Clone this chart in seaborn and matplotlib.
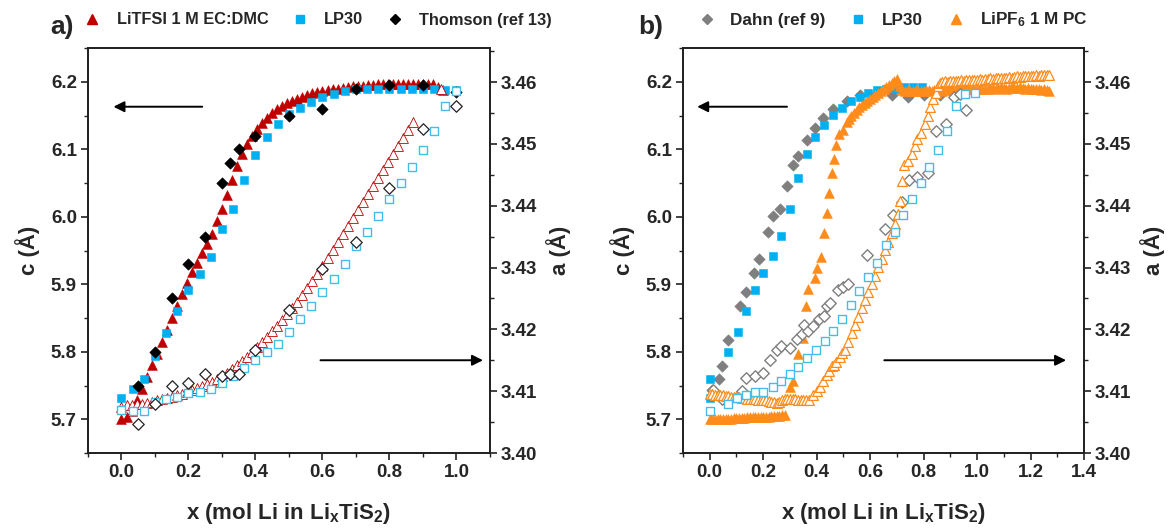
import numpy as np
import pandas as pd
import matplotlib
matplotlib.use('Agg')
import matplotlib.pyplot as plt
import seaborn as sns
from matplotlib.lines import Line2D
from matplotlib.ticker import MultipleLocator, FormatStrFormatter, FixedLocator

sns.set_style('ticks')
plt.rcParams['font.family'] = ['Liberation Sans', 'DejaVu Sans']
plt.rcParams['font.weight'] = 'bold'
plt.rcParams['mathtext.fontset'] = 'custom'
plt.rcParams['mathtext.rm'] = 'Liberation Sans:bold'
plt.rcParams['mathtext.bf'] = 'Liberation Sans:bold'
plt.rcParams['mathtext.it'] = 'Liberation Sans:bold'

# ---------------- Panel a data ----------------
litfsi_c_x = [0.000, 0.015, 0.030, 0.045, 0.060, 0.075, 0.090, 0.105, 0.120, 0.135,
              0.150, 0.165, 0.180, 0.195, 0.210, 0.225, 0.240, 0.255, 0.270, 0.285,
              0.300, 0.315, 0.330, 0.345, 0.360, 0.375, 0.390, 0.405, 0.420, 0.435,
              0.450, 0.465, 0.480, 0.495, 0.510, 0.525, 0.540, 0.555, 0.570, 0.585,
              0.600, 0.615, 0.630, 0.645, 0.660, 0.675, 0.690, 0.705, 0.720, 0.735,
              0.750, 0.765, 0.780, 0.795, 0.810, 0.825, 0.840, 0.855, 0.870, 0.885,
              0.900, 0.915, 0.930, 0.945, 0.960]
litfsi_c = [5.700, 5.703, 5.712, 5.728, 5.745, 5.763, 5.780, 5.797, 5.815, 5.832,
            5.850, 5.868, 5.885, 5.902, 5.918, 5.932, 5.946, 5.960, 5.975, 5.993,
            6.012, 6.032, 6.055, 6.075, 6.093, 6.108, 6.120, 6.130, 6.139, 6.147,
            6.153, 6.159, 6.164, 6.168, 6.172, 6.175, 6.178, 6.181, 6.183, 6.185,
            6.187, 6.188, 6.189, 6.190, 6.191, 6.192, 6.193, 6.194, 6.194, 6.195,
            6.195, 6.196, 6.196, 6.196, 6.197, 6.197, 6.197, 6.197, 6.197, 6.197,
            6.197, 6.197, 6.196, 6.192, 6.188]

litfsi_a_x = [0.000, 0.015, 0.030, 0.045, 0.060, 0.075, 0.090, 0.105, 0.120, 0.135,
              0.150, 0.165, 0.180, 0.195, 0.210, 0.225, 0.240, 0.255, 0.270, 0.285,
              0.300, 0.315, 0.330, 0.345, 0.360, 0.375, 0.390, 0.405, 0.420, 0.435,
              0.450, 0.465, 0.480, 0.495, 0.510, 0.525, 0.540, 0.555, 0.570, 0.585,
              0.600, 0.615, 0.630, 0.645, 0.660, 0.675, 0.690, 0.705, 0.720, 0.735,
              0.750, 0.765, 0.780, 0.795, 0.810, 0.825, 0.840, 0.855, 0.870, 0.955]
litfsi_a = [3.4075, 3.4077, 3.4078, 3.4079, 3.4080, 3.4081, 3.4083, 3.4085, 3.4087, 3.4089,
            3.4091, 3.4093, 3.4096, 3.4099, 3.4102, 3.4105, 3.4108, 3.4111, 3.4115, 3.4119,
            3.4124, 3.4130, 3.4136, 3.4142, 3.4149, 3.4156, 3.4164, 3.4172, 3.4180, 3.4188,
            3.4197, 3.4206, 3.4215, 3.4225, 3.4235, 3.4245, 3.4256, 3.4267, 3.4278, 3.4290,
            3.4302, 3.4315, 3.4328, 3.4341, 3.4354, 3.4367, 3.4380, 3.4393, 3.4406, 3.4419,
            3.4432, 3.4445, 3.4458, 3.4471, 3.4484, 3.4497, 3.4510, 3.4523, 3.4535, 3.4588]

lp30a_c_x = [0.000, 0.033, 0.067, 0.100, 0.133, 0.167, 0.200, 0.233, 0.267, 0.300,
             0.333, 0.367, 0.400, 0.433, 0.467, 0.500, 0.533, 0.567, 0.600, 0.633,
             0.667, 0.700, 0.733, 0.767, 0.800, 0.833, 0.867, 0.900, 0.933, 0.967, 1.000]
lp30a_c = [5.732, 5.745, 5.760, 5.793, 5.828, 5.860, 5.892, 5.915, 5.940, 5.982,
           6.012, 6.055, 6.092, 6.118, 6.137, 6.152, 6.161, 6.170, 6.177, 6.182,
           6.186, 6.189, 6.190, 6.190, 6.190, 6.190, 6.190, 6.190, 6.190, 6.188, 6.188]

lp30a_a_x = [0.000, 0.033, 0.067, 0.100, 0.133, 0.167, 0.200, 0.233, 0.267, 0.300,
             0.333, 0.367, 0.400, 0.433, 0.467, 0.500, 0.533, 0.567, 0.600, 0.633,
             0.667, 0.700, 0.733, 0.767, 0.800, 0.833, 0.867, 0.900, 0.933, 0.967, 1.000]
lp30a_a = [3.4069, 3.4068, 3.4068, 3.4082, 3.4087, 3.4090, 3.4097, 3.4099, 3.4103, 3.4113,
           3.4125, 3.4138, 3.4150, 3.4164, 3.4177, 3.4195, 3.4216, 3.4237, 3.4260, 3.4282,
           3.4305, 3.4334, 3.4358, 3.4384, 3.4410, 3.4436, 3.4462, 3.4490, 3.4520, 3.4561, 3.4585]

thomson_x = [0.05, 0.10, 0.15, 0.20, 0.25, 0.30, 0.325, 0.35, 0.40, 0.50, 0.60, 0.70, 0.80, 0.90, 1.00]
thomson_c = [5.750, 5.800, 5.880, 5.930, 5.970, 6.050, 6.080, 6.100, 6.120, 6.150, 6.160, 6.189, 6.195, 6.195, 6.185]
thomson_a = [3.4047, 3.4079, 3.4108, 3.4113, 3.4128, 3.4124, 3.4128, 3.4128, 3.4166, 3.4232,
             3.4298, 3.4342, 3.4428, 3.4524, 3.4562]

# ---------------- Panel b data ----------------
dahn_c_x = [0.010, 0.035, 0.045, 0.070, 0.115, 0.135, 0.165, 0.185, 0.218, 0.237,
            0.262, 0.290, 0.312, 0.331, 0.362, 0.393, 0.424, 0.462, 0.512, 0.562,
            0.620, 0.680, 0.740, 0.800, 0.860]
dahn_c = [5.744, 5.760, 5.779, 5.817, 5.868, 5.888, 5.916, 5.938, 5.977, 6.001,
          6.011, 6.045, 6.076, 6.090, 6.114, 6.131, 6.146, 6.159, 6.171, 6.181,
          6.180, 6.180, 6.178, 6.180, 6.180]

dahn_a_x = [0.012, 0.047, 0.120, 0.137, 0.169, 0.200, 0.225, 0.250, 0.265, 0.300,
            0.325, 0.345, 0.352, 0.367, 0.385, 0.410, 0.427, 0.437, 0.449, 0.481,
            0.500, 0.518, 0.590, 0.655, 0.687, 0.718, 0.745, 0.775, 0.815, 0.848,
            0.882, 0.915, 0.937, 0.957]
dahn_a = [3.4102, 3.4088, 3.4101, 3.4122, 3.4124, 3.4129, 3.4150, 3.4166, 3.4173, 3.4170,
          3.4184, 3.4192, 3.4207, 3.4197, 3.4205, 3.4216, 3.4222, 3.4237, 3.4242, 3.4263,
          3.4268, 3.4273, 3.4320, 3.4363, 3.4385, 3.4406, 3.4442, 3.4447, 3.4453, 3.4520,
          3.4532, 3.4575, 3.4580, 3.4555]

lp30b_c_x = [0.000, 0.000, 0.070, 0.105, 0.137, 0.169, 0.200, 0.236, 0.268, 0.300,
             0.331, 0.362, 0.393, 0.427, 0.462, 0.496, 0.527, 0.562, 0.593, 0.627,
             0.660, 0.693, 0.727, 0.760, 0.793]
lp30b_c = [5.732, 5.759, 5.800, 5.829, 5.860, 5.892, 5.916, 5.942, 5.972, 6.012,
           6.058, 6.093, 6.118, 6.136, 6.151, 6.161, 6.171, 6.178, 6.184, 6.188,
           6.190, 6.190, 6.192, 6.192, 6.192]

lp30b_a_x = [0.000, 0.070, 0.103, 0.137, 0.170, 0.200, 0.236, 0.268, 0.300, 0.331,
             0.362, 0.397, 0.430, 0.462, 0.496, 0.527, 0.560, 0.593, 0.625, 0.659,
             0.693, 0.722, 0.755, 0.790, 0.821, 0.855, 0.889, 0.921, 0.955, 0.993]
lp30b_a = [3.4068, 3.4080, 3.4089, 3.4093, 3.4099, 3.4099, 3.4107, 3.4116, 3.4127, 3.4139,
           3.4154, 3.4167, 3.4181, 3.4198, 3.4217, 3.4240, 3.4262, 3.4285, 3.4308, 3.4336,
           3.4358, 3.4385, 3.4410, 3.4436, 3.4462, 3.4490, 3.4521, 3.4561, 3.4580, 3.4583]

lipf6_c_x = [0.00, 0.01, 0.02, 0.03, 0.04, 0.05, 0.06, 0.07, 0.08, 0.09,
             0.10, 0.11, 0.12, 0.13, 0.14, 0.15, 0.16, 0.17, 0.18, 0.19,
             0.20, 0.21, 0.22, 0.23, 0.24, 0.25, 0.26, 0.27, 0.28,
             0.300, 0.310, 0.330, 0.348, 0.360, 0.368, 0.392, 0.400, 0.416, 0.427,
             0.437, 0.446, 0.456, 0.464, 0.474, 0.484, 0.499, 0.512,
             0.52, 0.53, 0.54, 0.55, 0.56, 0.57, 0.58, 0.59, 0.60, 0.61,
             0.62, 0.63, 0.64, 0.65, 0.66, 0.67, 0.68, 0.69, 0.70, 0.71, 0.72,
             0.73, 0.74, 0.75, 0.76, 0.77, 0.78, 0.79, 0.80, 0.81, 0.82,
             0.83, 0.84, 0.85, 0.86, 0.87, 0.88, 0.89, 0.90, 0.91, 0.92,
             0.93, 0.94, 0.95, 0.96, 0.97, 0.98, 0.99, 1.00, 1.01, 1.02,
             1.03, 1.04, 1.05, 1.06, 1.07, 1.08, 1.09, 1.10, 1.11, 1.12,
             1.13, 1.14, 1.15, 1.16, 1.17, 1.18, 1.19, 1.20, 1.21, 1.22,
             1.23, 1.24, 1.25, 1.26, 1.27]
lipf6_c = [5.700, 5.700, 5.700, 5.700, 5.701, 5.701, 5.701, 5.701, 5.701, 5.702,
           5.702, 5.702, 5.702, 5.702, 5.703, 5.703, 5.703, 5.703, 5.703, 5.704,
           5.704, 5.704, 5.704, 5.705, 5.705, 5.705, 5.705, 5.706, 5.706,
           5.748, 5.756, 5.796, 5.820, 5.868, 5.893, 5.910, 5.924, 5.940, 5.976,
           6.006, 6.035, 6.065, 6.085, 6.107, 6.122, 6.129, 6.141,
           6.145, 6.150, 6.154, 6.158, 6.162, 6.165, 6.168, 6.171, 6.174, 6.177,
           6.180, 6.183, 6.186, 6.189, 6.192, 6.195, 6.198, 6.201, 6.204, 6.193, 6.188,
           6.187, 6.188, 6.186, 6.187, 6.188, 6.187, 6.186, 6.187, 6.188, 6.188,
           6.187, 6.188, 6.189, 6.188, 6.187, 6.188, 6.189, 6.189, 6.188, 6.189,
           6.190, 6.189, 6.188, 6.189, 6.190, 6.190, 6.189, 6.190, 6.191, 6.190,
           6.189, 6.190, 6.191, 6.191, 6.190, 6.191, 6.192, 6.191, 6.190, 6.191,
           6.192, 6.191, 6.191, 6.192, 6.191, 6.190, 6.191, 6.190, 6.189, 6.190,
           6.189, 6.188, 6.189, 6.188, 6.187]

lipf6_a_x = [0.00, 0.01, 0.02, 0.03, 0.04, 0.05, 0.06, 0.07, 0.08, 0.09,
             0.10, 0.11, 0.12, 0.13, 0.14, 0.15, 0.16, 0.17, 0.18, 0.19,
             0.20, 0.21, 0.22, 0.23, 0.24, 0.25, 0.26, 0.27, 0.28, 0.29,
             0.30, 0.31, 0.32, 0.33, 0.34, 0.35, 0.36, 0.37,
             0.387, 0.400, 0.412, 0.425, 0.437, 0.446, 0.456, 0.465, 0.474, 0.487,
             0.496, 0.506, 0.518, 0.531, 0.543, 0.556, 0.568, 0.581, 0.593, 0.606,
             0.618, 0.631, 0.643, 0.655, 0.668, 0.680, 0.693, 0.705, 0.712, 0.719,
             0.726, 0.740, 0.755, 0.766, 0.776, 0.790, 0.804, 0.818, 0.825, 0.836,
             0.846, 0.853,
             0.86, 0.87, 0.88, 0.89, 0.90, 0.91, 0.92, 0.93, 0.94, 0.95,
             0.96, 0.97, 0.98, 0.99, 1.00, 1.01, 1.02, 1.03, 1.04, 1.05,
             1.06, 1.07, 1.08, 1.09, 1.10, 1.11, 1.12, 1.13, 1.14, 1.15,
             1.16, 1.17, 1.18, 1.19, 1.20, 1.21, 1.22, 1.23, 1.24, 1.25,
             1.26, 1.27]
lipf6_a = [3.4095, 3.4095, 3.4094, 3.4094, 3.4093, 3.4093, 3.4092, 3.4092, 3.4091, 3.4091,
           3.4090, 3.4090, 3.4089, 3.4089, 3.4088, 3.4088, 3.4087, 3.4087, 3.4086, 3.4086,
           3.4085, 3.4085, 3.4084, 3.4083, 3.4082, 3.4081, 3.4082, 3.4086, 3.4088, 3.4088,
           3.4088, 3.4087, 3.4087, 3.4086, 3.4086, 3.4085, 3.4085, 3.4086,
           3.4094, 3.4100, 3.4107, 3.4116, 3.4126, 3.4133, 3.4140, 3.4143, 3.4147, 3.4156,
           3.4161, 3.4167, 3.4180, 3.4194, 3.4207, 3.4220, 3.4234, 3.4247, 3.4260, 3.4274,
           3.4287, 3.4301, 3.4314, 3.4328, 3.4342, 3.4356, 3.4370, 3.4386, 3.4408, 3.4440,
           3.4465, 3.4473, 3.4483, 3.4496, 3.4508, 3.4518, 3.4532, 3.4545, 3.4559, 3.4572,
           3.4583, 3.4594,
           3.4598, 3.4600, 3.4601, 3.4600, 3.4601, 3.4602, 3.4601, 3.4602, 3.4603, 3.4602,
           3.4603, 3.4603, 3.4604, 3.4603, 3.4604, 3.4605, 3.4604, 3.4605, 3.4605, 3.4606,
           3.4605, 3.4606, 3.4607, 3.4606, 3.4607, 3.4607, 3.4608, 3.4607, 3.4608, 3.4609,
           3.4608, 3.4609, 3.4609, 3.4610, 3.4609, 3.4610, 3.4611, 3.4610, 3.4611, 3.4611,
           3.4612, 3.4611]

xticks_a = [0.0, 0.2, 0.4, 0.6, 0.8, 1.0]
xticks_b = [0.0, 0.2, 0.4, 0.6, 0.8, 1.0, 1.2, 1.4]
cticks = [5.7, 5.8, 5.9, 6.0, 6.1, 6.2]
aticks = [3.40, 3.41, 3.42, 3.43, 3.44, 3.45, 3.46]

legend_a = ['LiTFSI 1 M EC:DMC', 'LP30', 'Thomson (ref 13)']
legend_b = ['Dahn (ref 9)', 'LP30', r'LiPF$_{\mathbf{6}}$ 1 M PC']

RED = '#C00000'
BLUE = '#00B0F0'
BLUE_OPEN = '#45BDEB'
GREY = '#7F7F7F'
ORANGE = '#FF8C1A'

W, H = 1171, 529
fig = plt.figure(figsize=(W / 100, H / 100), dpi=100)
axA = fig.add_axes([88 / W, 76 / H, 402 / W, 405 / H])
axB = fig.add_axes([683 / W, 76 / H, 401 / W, 405 / H])
axA2 = axA.twinx()
axB2 = axB.twinx()

TRI = 50
SQ = 40
DIA = 34


def filled(ax, x, y, marker, color, s):
    sns.scatterplot(x=x, y=y, ax=ax, marker=marker, s=s, color=color,
                    edgecolor=color, linewidth=0.4, legend=False)


def hollow(ax, x, y, marker, color, s, lw=1.0):
    sns.scatterplot(x=x, y=y, ax=ax, marker=marker, s=s, facecolor='white',
                    edgecolor=color, linewidth=lw, legend=False)


# panel a
filled(axA, litfsi_c_x, litfsi_c, '^', RED, TRI)
filled(axA, lp30a_c_x, lp30a_c, 's', BLUE, SQ)
filled(axA, thomson_x, thomson_c, 'D', 'black', DIA)
hollow(axA2, litfsi_a_x, litfsi_a, '^', RED, TRI, lw=0.6)
hollow(axA2, lp30a_a_x, lp30a_a, 's', BLUE_OPEN, SQ, lw=1.0)
hollow(axA2, thomson_x, thomson_a, 'D', '#222222', DIA, lw=0.9)

# panel b
filled(axB, dahn_c_x, dahn_c, 'D', GREY, DIA)
filled(axB, lp30b_c_x, lp30b_c, 's', BLUE, SQ)
filled(axB, lipf6_c_x, lipf6_c, '^', ORANGE, TRI)
hollow(axB2, dahn_a_x, dahn_a, 'D', GREY, DIA, lw=1.0)
hollow(axB2, lipf6_a_x, lipf6_a, '^', ORANGE, TRI, lw=0.9)
hollow(axB2, lp30b_a_x, lp30b_a, 's', BLUE_OPEN, SQ, lw=1.0)

arrow = dict(arrowstyle='-|>', color='black', lw=1.4, mutation_scale=16, shrinkA=0, shrinkB=0)
axA.annotate('', xy=(-0.024, 6.163), xytext=(0.241, 6.163), arrowprops=arrow)
axA2.annotate('', xy=(1.079, 3.415), xytext=(0.594, 3.415), arrowprops=arrow)
axB.annotate('', xy=(-0.047, 6.163), xytext=(0.289, 6.163), arrowprops=arrow)
axB2.annotate('', xy=(1.333, 3.415), xytext=(0.653, 3.415), arrowprops=arrow)

TICK_FS = 13.5
LAB_FS = 16
xlabel = r'x (mol Li in Li$_{\mathbf{x}}$TiS$_{\mathbf{2}}$)'

for ax, ax2, xmax, xt in [(axA, axA2, 1.1, xticks_a), (axB, axB2, 1.4, xticks_b)]:
    ax.set_xlim(-0.1, xmax)
    ax.set_ylim(5.65, 6.25)
    ax2.set_ylim(3.40, 3.4655)
    ax.xaxis.set_major_locator(FixedLocator(xt))
    ax.xaxis.set_minor_locator(MultipleLocator(0.1))
    ax.xaxis.set_major_formatter(FormatStrFormatter('%.1f'))
    ax.yaxis.set_major_locator(FixedLocator(cticks))
    ax.yaxis.set_minor_locator(MultipleLocator(0.05))
    ax.yaxis.set_major_formatter(FormatStrFormatter('%.1f'))
    ax2.yaxis.set_major_locator(FixedLocator(aticks))
    ax2.yaxis.set_minor_locator(MultipleLocator(0.005))
    ax2.yaxis.set_major_formatter(FormatStrFormatter('%.2f'))
    for a in (ax, ax2):
        a.tick_params(which='major', direction='out', length=5, width=1.2,
                      labelsize=TICK_FS, color='#222222', pad=3)
        a.tick_params(which='minor', direction='out', length=3, width=1.0, color='#222222')
        for sp in a.spines.values():
            sp.set_linewidth(1.3)
            sp.set_color('#222222')
            sp.set_visible(True)
    ax.tick_params(top=False, right=False, which='both')
    ax2.tick_params(left=False, labelleft=False, which='both')
    ax.set_xlabel(xlabel, fontsize=LAB_FS, fontweight='bold', labelpad=14)
    ax.set_ylabel('c (Å)', fontsize=LAB_FS, fontweight='bold', labelpad=8)
    ax2.set_ylabel('a (Å)', fontsize=LAB_FS, fontweight='bold', labelpad=6)
    for lab in ax.get_xticklabels() + ax.get_yticklabels() + ax2.get_yticklabels():
        lab.set_fontweight('bold')


def handles(specs):
    out = []
    for mk, col, ms in specs:
        out.append(Line2D([], [], linestyle='none', marker=mk, color=col,
                          markerfacecolor=col, markeredgecolor=col, markersize=ms))
    return out


hA = handles([('^', RED, 6.5), ('s', BLUE, 6.0), ('D', 'black', 5.5)])
hB = handles([('D', GREY, 5.5), ('s', BLUE, 6.0), ('^', ORANGE, 6.5)])
fig.legend(hA, legend_a, loc='center left', bbox_to_anchor=(84 / W, 1 - 20 / H),
           ncol=3, frameon=False, handlelength=1.0, handletextpad=1.0,
           columnspacing=1.4, borderpad=0, borderaxespad=0,
           prop={'weight': 'bold', 'size': 11.8})
fig.legend(hB, legend_b, loc='center left', bbox_to_anchor=(698 / W, 1 - 20 / H),
           ncol=3, frameon=False, handlelength=1.0, handletextpad=0.9,
           columnspacing=1.4, borderpad=0, borderaxespad=0,
           prop={'weight': 'bold', 'size': 12.3})

fig.text(50 / W, 1 - 27 / H, 'a)', fontsize=19, fontweight='bold', va='center', ha='left')
fig.text(638 / W, 1 - 27 / H, 'b)', fontsize=19, fontweight='bold', va='center', ha='left')

fig.savefig('out.png', dpi=100)
